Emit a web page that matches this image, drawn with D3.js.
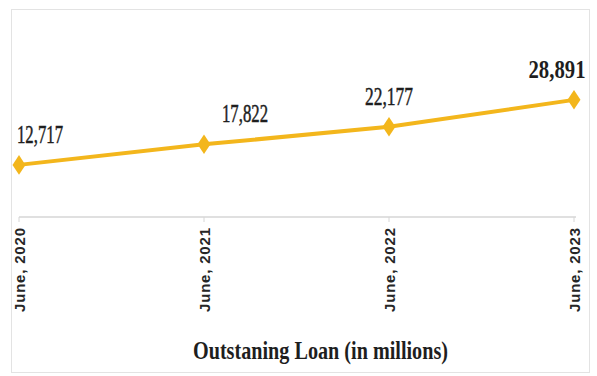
<!DOCTYPE html>
<html>
<head>
<meta charset="utf-8">
<script src="https://cdn.jsdelivr.net/npm/d3@7"></script>
<style>
  html, body { margin: 0; padding: 0; background: #fff; }
  svg { display: block; }
</style>
</head>
<body>
<svg id="chart" width="597" height="376"></svg>
<script>
// Outstanding loan balance, in millions, at each June reporting date
const periods = ["June, 2020", "June, 2021", "June, 2022", "June, 2023"];
const loanValues = [12717, 17822, 22177, 28891];
const valueLabels = ["12,717", "17,822", "22,177", "28,891"];
const chartTitle = "Outstaning Loan (in millions)";

// Label placement around each point (horizontal nudge, width of the condensed figure)
const labelNudge = [21, 41, 0, -17];
const labelWidth = [46, 46, 48, 57];

const svg = d3.select("#chart");
const lineColor = "#f3b61c";
const textColor = "#1e1e1e";

// Light frame round the chart area
svg.append("rect")
  .attr("x", 11.5).attr("y", 9.5)
  .attr("width", 578).attr("height", 363)
  .attr("fill", "none")
  .attr("stroke", "#e3e3e3")
  .attr("stroke-width", 1);

const x = d3.scalePoint().domain(periods).range([19, 574]);
const y = d3.scaleLinear().domain([0, 30000]).range([216, 95.4]);

// Category axis along the bottom of the plot
const axisG = svg.append("g").attr("transform", "translate(0,217)");
axisG.append("line")
  .attr("x1", 19).attr("x2", 576)
  .attr("stroke", "#d6d6d6").attr("stroke-width", 1.5);
axisG.selectAll("line.tick")
  .data(periods)
  .join("line")
  .attr("class", "tick")
  .attr("x1", d => x(d)).attr("x2", d => x(d))
  .attr("y1", 0).attr("y2", 5)
  .attr("stroke", "#d6d6d6").attr("stroke-width", 1);

axisG.selectAll("text.tick-label")
  .data(periods)
  .join("text")
  .attr("class", "tick-label")
  .attr("transform", d => `translate(${x(d) + 6},11) rotate(-90)`)
  .attr("text-anchor", "end")
  .attr("font-family", "'Liberation Sans', Arial, sans-serif")
  .attr("font-weight", "bold")
  .attr("font-size", 15)
  .attr("fill", "#262626")
  .attr("textLength", 84)
  .attr("lengthAdjust", "spacing")
  .text(d => d);

// Series line and diamond markers
const line = d3.line()
  .x((d, i) => x(periods[i]))
  .y(d => y(d));

svg.append("path")
  .datum(loanValues)
  .attr("d", line)
  .attr("fill", "none")
  .attr("stroke", lineColor)
  .attr("stroke-width", 4)
  .attr("stroke-linejoin", "round");

const diamond = d3.symbol().type(d3.symbolDiamond).size(110);
svg.selectAll("path.marker")
  .data(loanValues)
  .join("path")
  .attr("class", "marker")
  .attr("transform", (d, i) => `translate(${x(periods[i])},${y(d)}) scale(1.15,1)`)
  .attr("d", diamond)
  .attr("fill", lineColor);

// Value labels above each point, set in a narrowed serif; the latest figure is bold
const lastIndex = loanValues.length - 1;
const valueText = svg.selectAll("text.value")
  .data(loanValues)
  .join("text")
  .attr("class", "value")
  .attr("text-anchor", "middle")
  .attr("font-family", "'Liberation Serif', 'Times New Roman', serif")
  .attr("font-size", 26)
  .attr("font-weight", (d, i) => i === lastIndex ? "bold" : "normal")
  .attr("fill", textColor)
  .attr("stroke", (d, i) => i === lastIndex ? "none" : textColor)
  .attr("stroke-width", 0.5)
  .text((d, i) => valueLabels[i]);

valueText.attr("transform", function (d, i) {
  const natural = this.getComputedTextLength();
  const sx = labelWidth[i] / natural;
  return `translate(${x(periods[i]) + labelNudge[i]},${y(d) - 22}) scale(${sx},1)`;
});

// Chart title below the axis labels
svg.append("text")
  .attr("x", 320.5)
  .attr("y", 359)
  .attr("text-anchor", "middle")
  .attr("font-family", "'Liberation Serif', 'Times New Roman', serif")
  .attr("font-weight", "bold")
  .attr("font-size", 25)
  .attr("fill", textColor)
  .attr("textLength", 255)
  .attr("lengthAdjust", "spacingAndGlyphs")
  .text(chartTitle);
</script>
</body>
</html>
